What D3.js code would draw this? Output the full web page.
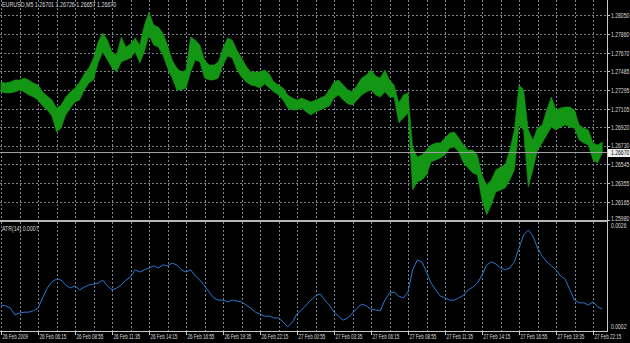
<!DOCTYPE html>
<html>
<head>
<meta charset="utf-8">
<script src="https://cdnjs.cloudflare.com/ajax/libs/d3/7.8.5/d3.min.js"></script>
<style>
html, body { margin: 0; padding: 0; background: #000; }
svg { display: block; }
text { font-family: "Liberation Sans", Arial, sans-serif; font-size: 6.5px; fill: #dcdcdc; }
</style>
</head>
<body>
<svg id="chart" width="630" height="343"></svg>
<script>
var symbol = "EURUSD,M5";
var lastBar = ["1.26701", "1.26726", "1.26657", "1.26670"];
var lastClose = 1.26670;
var priceTicks = [1.28050, 1.27860, 1.27670, 1.27485, 1.27295, 1.27105,
                  1.26920, 1.26730, 1.26545, 1.26355, 1.26165, 1.25980];
var atrTicks = [0.0026, 0.0002];
var atrName = "ATR(14)";
var atrLast = "0.0007";
var timeLabels = ["26 Feb 2009", "26 Feb 06:15", "26 Feb 08:55", "26 Feb 11:35", "26 Feb 14:15",
                  "26 Feb 16:55", "26 Feb 19:35", "26 Feb 22:15", "27 Feb 00:55", "27 Feb 03:35",
                  "27 Feb 06:15", "27 Feb 08:55", "27 Feb 11:35", "27 Feb 14:15", "27 Feb 16:55",
                  "27 Feb 19:35", "27 Feb 22:15"];

// high / low of every 20 minutes (4 bars of M5)
var highs = [1.27374, 1.27364, 1.27374, 1.27394, 1.27394, 1.27414, 1.27394, 1.27364, 1.27343, 1.27273,
             1.27232, 1.27192, 1.27111, 1.27141, 1.27222, 1.27273, 1.27313, 1.27374, 1.27455, 1.27515,
             1.27616, 1.27778, 1.27869, 1.27798, 1.27677, 1.27646, 1.27828, 1.27727, 1.27758, 1.27818,
             1.27747, 1.27949, 1.28081, 1.27949, 1.27929, 1.27869, 1.27747, 1.27596, 1.27515, 1.27475,
             1.27495, 1.27828, 1.27798, 1.27747, 1.27596, 1.27545, 1.27545, 1.27576, 1.27717, 1.27818,
             1.27798, 1.27697, 1.27616, 1.27535, 1.27475, 1.27475, 1.27475, 1.27495, 1.27455, 1.27374,
             1.27343, 1.27313, 1.27242, 1.27212, 1.27192, 1.27212, 1.27192, 1.27172, 1.27192, 1.27212,
             1.27232, 1.27293, 1.27374, 1.27394, 1.27343, 1.27293, 1.27273, 1.27343, 1.27414, 1.27444,
             1.27495, 1.27434, 1.27414, 1.27495, 1.27394, 1.27343, 1.27162, 1.27242, 1.27263, 1.26717,
             1.26616, 1.26636, 1.26687, 1.26737, 1.26758, 1.26758, 1.26808, 1.26859, 1.26869, 1.26808,
             1.26737, 1.26687, 1.26687, 1.26636, 1.26434, 1.26333, 1.26384, 1.26485, 1.26515, 1.26535,
             1.26687, 1.26889, 1.27343, 1.27293, 1.26889, 1.26788, 1.26909, 1.26939, 1.27091, 1.27222,
             1.27091, 1.27111, 1.27121, 1.27121, 1.27091, 1.26939, 1.26909, 1.26889, 1.26758, 1.26737,
             1.26768];
var lows = [1.27273, 1.27263, 1.27263, 1.27273, 1.27293, 1.27273, 1.27242, 1.27222, 1.27192, 1.27131,
            1.27091, 1.27030, 1.26869, 1.26909, 1.27040, 1.27111, 1.27172, 1.27192, 1.27293, 1.27364,
            1.27394, 1.27566, 1.27677, 1.27596, 1.27515, 1.27475, 1.27576, 1.27596, 1.27616, 1.27677,
            1.27566, 1.27677, 1.27848, 1.27747, 1.27727, 1.27646, 1.27515, 1.27414, 1.27293, 1.27293,
            1.27313, 1.27475, 1.27596, 1.27576, 1.27414, 1.27394, 1.27394, 1.27414, 1.27545, 1.27636,
            1.27616, 1.27495, 1.27424, 1.27374, 1.27343, 1.27333, 1.27313, 1.27354, 1.27313, 1.27273,
            1.27242, 1.27192, 1.27111, 1.27091, 1.27091, 1.27111, 1.27071, 1.27040, 1.27071, 1.27091,
            1.27111, 1.27131, 1.27212, 1.27242, 1.27192, 1.27152, 1.27141, 1.27192, 1.27242, 1.27273,
            1.27293, 1.27242, 1.27222, 1.27273, 1.27222, 1.27222, 1.26960, 1.27010, 1.27061, 1.26283,
            1.26364, 1.26384, 1.26434, 1.26566, 1.26586, 1.26606, 1.26636, 1.26707, 1.26717, 1.26667,
            1.26556, 1.26505, 1.26455, 1.26434, 1.26182, 1.26030, 1.26131, 1.26263, 1.26283, 1.26303,
            1.26384, 1.26485, 1.26939, 1.26889, 1.26313, 1.26485, 1.26687, 1.26758, 1.26838, 1.26919,
            1.26889, 1.26919, 1.26939, 1.26919, 1.26909, 1.26788, 1.26758, 1.26737, 1.26586, 1.26556,
            1.26657];
var atr = [0.00076, 0.00074, 0.00069, 0.00054, 0.00058, 0.00060, 0.00060, 0.00063, 0.00069, 0.00092,
           0.00114, 0.00128, 0.00134, 0.00132, 0.00121, 0.00114, 0.00119, 0.00110, 0.00116, 0.00121,
           0.00123, 0.00125, 0.00132, 0.00119, 0.00110, 0.00114, 0.00121, 0.00132, 0.00139, 0.00155,
           0.00150, 0.00155, 0.00159, 0.00164, 0.00159, 0.00166, 0.00164, 0.00170, 0.00166, 0.00155,
           0.00150, 0.00155, 0.00141, 0.00132, 0.00119, 0.00105, 0.00092, 0.00087, 0.00087, 0.00083,
           0.00087, 0.00085, 0.00083, 0.00076, 0.00069, 0.00060, 0.00056, 0.00051, 0.00051, 0.00047,
           0.00047, 0.00038, 0.00027, 0.00038, 0.00056, 0.00065, 0.00076, 0.00087, 0.00096, 0.00101,
           0.00087, 0.00076, 0.00060, 0.00051, 0.00042, 0.00047, 0.00058, 0.00069, 0.00078, 0.00074,
           0.00067, 0.00065, 0.00063, 0.00087, 0.00103, 0.00105, 0.00096, 0.00092, 0.00105, 0.00155,
           0.00177, 0.00173, 0.00150, 0.00125, 0.00110, 0.00096, 0.00092, 0.00087, 0.00087, 0.00092,
           0.00098, 0.00110, 0.00116, 0.00125, 0.00143, 0.00166, 0.00173, 0.00168, 0.00159, 0.00155,
           0.00159, 0.00173, 0.00204, 0.00233, 0.00244, 0.00231, 0.00204, 0.00186, 0.00173, 0.00164,
           0.00155, 0.00141, 0.00134, 0.00110, 0.00087, 0.00081, 0.00081, 0.00076, 0.00083, 0.00072,
           0.00067];

var svg = d3.select("#chart");
var W = 630, H = 343;
var plotRight = 607;
var mainBottom = 220;
var subTop = 222, subBottom = 331;

svg.append("rect").attr("width", W).attr("height", H).attr("fill", "#000");

var x = d3.scaleLinear().domain([0, 128]).range([1, 593]);
var y = d3.scaleLinear().domain([1.25980, 1.28050]).range([mainBottom, 15]);
var ya = d3.scaleLinear().domain([0.0002, 0.0026]).range([330, 223]);

var gridColor = "#7b848f";

// vertical grid, every 80 minutes
var grid = svg.append("g").attr("class", "grid");
d3.range(0, 129, 4).forEach(function (k) {
    var gx = Math.round(x(k)) + 0.5;
    grid.append("line").attr("x1", gx).attr("x2", gx).attr("y1", 0).attr("y2", mainBottom)
        .attr("stroke", gridColor).attr("stroke-dasharray", "2,2");
    grid.append("line").attr("x1", gx).attr("x2", gx).attr("y1", subTop).attr("y2", subBottom)
        .attr("stroke", gridColor).attr("stroke-dasharray", "2,2");
});
// horizontal grid at price ticks
priceTicks.forEach(function (p) {
    var gy = Math.round(y(p)) + 0.5;
    grid.append("line").attr("x1", 0).attr("x2", plotRight).attr("y1", gy).attr("y2", gy)
        .attr("stroke", gridColor).attr("stroke-dasharray", "2,2");
});

// price band
var idx = d3.range(highs.length);
var band = d3.area()
    .x(function (i) { return x(i); })
    .y0(function (i) { return y(lows[i]); })
    .y1(function (i) { return y(highs[i]); });
svg.append("path").datum(idx).attr("d", band)
    .attr("fill", "#139613").attr("stroke", "#139613").attr("stroke-width", 0.6);

// current price line
var cy = Math.round(y(lastClose)) + 0.5;
svg.append("line").attr("x1", 0).attr("x2", plotRight).attr("y1", cy).attr("y2", cy)
    .attr("stroke", "#a0a0a0");

// ATR line
var atrLine = d3.line()
    .x(function (d, i) { return x(i); })
    .y(function (d) { return ya(d); });
svg.append("path").datum(atr).attr("d", atrLine)
    .attr("fill", "none").attr("stroke", "#2a78d0").attr("stroke-width", 1);

// frames
svg.append("line").attr("x1", plotRight + 0.5).attr("x2", plotRight + 0.5).attr("y1", 0).attr("y2", subBottom + 1)
    .attr("stroke", "#c8c8c8");
svg.append("rect").attr("x", 0).attr("y", mainBottom).attr("width", plotRight + 1).attr("height", 2)
    .attr("fill", "#b8b8b8");
svg.append("line").attr("x1", 0).attr("x2", plotRight + 1).attr("y1", subBottom + 0.5).attr("y2", subBottom + 0.5)
    .attr("stroke", "#c8c8c8");

function label(g, tx, ty, str, sx) {
    return g.append("text")
        .attr("transform", "translate(" + tx + "," + ty + ") scale(" + sx + ",1)")
        .attr("dy", "0.35em")
        .text(str);
}

// price axis
var axisG = svg.append("g");
priceTicks.forEach(function (p, i) {
    var ty = Math.round(y(p)) + 0.5;
    axisG.append("line").attr("x1", plotRight).attr("x2", plotRight + 3).attr("y1", ty).attr("y2", ty)
        .attr("stroke", "#c8c8c8");
    // lowest label sits just above the window edge
    var ly = i === priceTicks.length - 1 ? ty - 2 : ty;
    if (p === 1.26730) ly = ty - 1;
    label(axisG, plotRight + 4, ly, d3.format(".5f")(p), 0.78);
});
axisG.append("rect").attr("x", plotRight + 1).attr("y", cy - 3.5).attr("width", W - plotRight - 1).attr("height", 8)
    .attr("fill", "#f0f0f0");
label(axisG, plotRight + 4, cy + 0.5, d3.format(".5f")(lastClose), 0.78).style("fill", "#000");

// ATR axis
label(axisG, plotRight + 4, ya(atrTicks[0]) + 3, d3.format(".4f")(atrTicks[0]), 0.78);
label(axisG, plotRight + 4, ya(atrTicks[1]) - 3, d3.format(".4f")(atrTicks[1]), 0.78);

// time axis
timeLabels.forEach(function (t, j) {
    var tx = Math.round(x(j * 8)) + 0.5;
    axisG.append("line").attr("x1", tx).attr("x2", tx).attr("y1", subBottom).attr("y2", subBottom + 4)
        .attr("stroke", "#c8c8c8");
    label(axisG, tx + 1, 337, t, 0.7);
});

// titles
label(svg, 2, 5, symbol + "  " + lastBar.join(" "), 0.82);
label(svg, 2, 229, atrName + " " + atrLast, 0.8);
</script>
</body>
</html>
